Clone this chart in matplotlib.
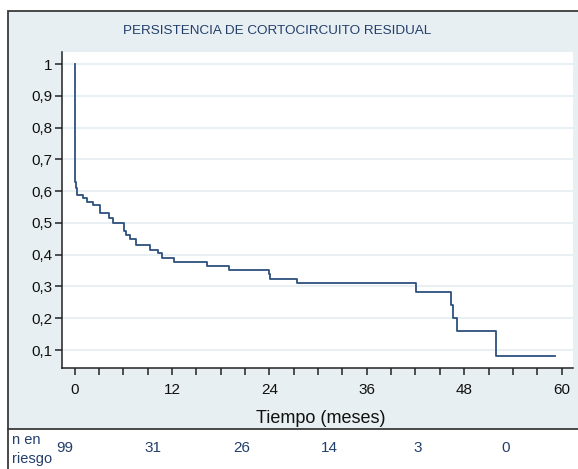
import matplotlib
matplotlib.use("Agg")
import matplotlib.pyplot as plt
from matplotlib.patches import Rectangle
from matplotlib.lines import Line2D

plt.rcParams["font.family"] = ["Liberation Sans", "DejaVu Sans"]

# Kaplan-Meier step curve (time in months, survival after the step)
times = [0.0, 0.0, 0.1, 0.2, 0.3, 1.0, 1.5, 2.3, 3.1, 4.2, 4.7, 6.1, 6.4, 6.8,
         7.6, 9.3, 10.3, 10.8, 12.2, 16.3, 19.0, 23.9, 24.1, 27.4, 42.1,
         46.4, 46.6, 47.1, 51.9, 59.2]
surv = [1.0, 0.64, 0.63, 0.61, 0.588, 0.577, 0.566, 0.556, 0.532, 0.515,
        0.500, 0.474, 0.462, 0.448, 0.430, 0.415, 0.404, 0.391, 0.378,
        0.365, 0.352, 0.340, 0.323, 0.310, 0.282, 0.242, 0.201, 0.161,
        0.081, 0.081]

xticks = [0, 12, 24, 36, 48, 60]
yticks = [0.1, 0.2, 0.3, 0.4, 0.5, 0.6, 0.7, 0.8, 0.9, 1.0]
ylabels = ["0,1", "0,2", "0,3", "0,4", "0,5", "0,6", "0,7", "0,8", "0,9", "1"]
risk_times = [0, 12, 24, 36, 48, 60]
risk_n = [99, 31, 26, 14, 3, 0]

W, H = 578, 469
bg = "#E8EFF2"
navy = "#233F6B"
line_col = "#2D4F7E"
edge = "#3A3A3A"

fig = plt.figure(figsize=(W / 100, H / 100), dpi=100)
fig.patch.set_facecolor("white")

# outer graph region
fig.patches.append(Rectangle((8 / W, 1 - 429 / H), 600 / W, 418 / H,
                             transform=fig.transFigure, facecolor=bg,
                             edgecolor=edge, linewidth=1.3, zorder=-1))
fig.lines.append(Line2D([8 / W, 8 / W], [0, 1 - 429 / H],
                        transform=fig.transFigure, color=edge, linewidth=1.3))

ax = fig.add_axes([62 / W, 1 - 368 / H, (573 - 62) / W, (368 - 52) / H])
ax.set_facecolor("white")
ax.step(times, surv, where="post", color=line_col, linewidth=1.3, zorder=3)

ax.set_xlim(-1.54, 61.4)
ax.set_ylim(0.0434, 1.038)
ax.set_xticks(xticks)
ax.set_xticks(range(0, 61, 3), minor=True)
ax.set_yticks(yticks)
ax.set_yticklabels(ylabels)
ax.tick_params(axis="both", direction="out", length=5, width=1.1,
               color="#222222", labelsize=11, labelcolor="#111111")
ax.tick_params(axis="x", which="minor", length=5, width=1.1, color="#222222")
ax.tick_params(axis="x", pad=6)
ax.tick_params(axis="y", pad=2)
ax.grid(axis="y", color="#E4EDF1", linewidth=1.2)
ax.set_axisbelow(True)
for s in ["top", "right"]:
    ax.spines[s].set_visible(False)
for s in ["left", "bottom"]:
    ax.spines[s].set_color("#222222")
    ax.spines[s].set_linewidth(1.1)

fig.text(277 / W, 1 - 31 / H, "PERSISTENCIA DE CORTOCIRCUITO RESIDUAL",
         ha="center", va="center", fontsize=9.7, color=navy)
fig.text(321 / W, 1 - 418 / H, "Tiempo (meses)", ha="center", va="center",
         fontsize=13, color="#111111")

# number at risk row
rax = fig.add_axes([65 / W, 0, (505.7 - 65) / W, 1 - 429 / H])
rax.set_xlim(0, 60)
rax.set_ylim(0, 1)
rax.axis("off")
for t, n in zip(risk_times, risk_n):
    rax.text(t, 0.52, str(n), ha="center", va="center", fontsize=11,
             color=navy)
fig.text(12 / W, 1 - 440 / H, "n en", ha="left", va="center",
         fontsize=10.5, color=navy)
fig.text(12 / W, 1 - 459 / H, "riesgo", ha="left", va="center",
         fontsize=10.5, color=navy)

fig.savefig("out.png", dpi=100, facecolor="white")
